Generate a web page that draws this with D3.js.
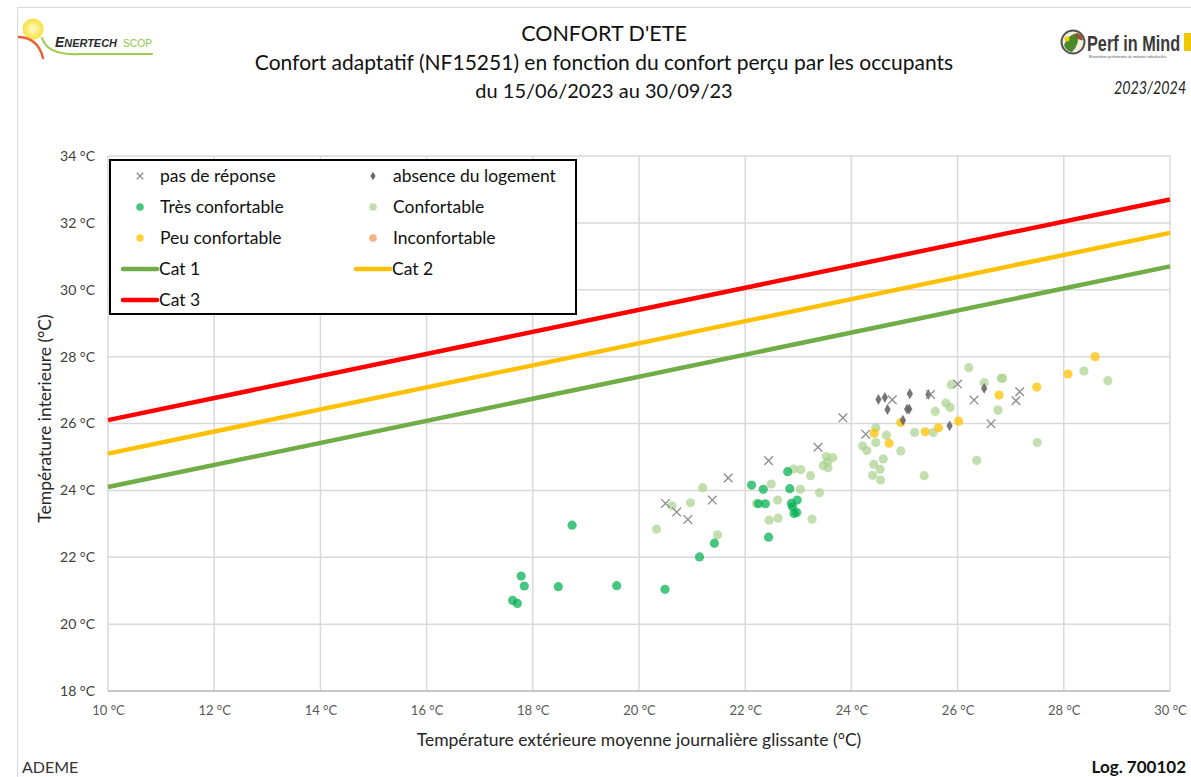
<!DOCTYPE html>
<html>
<head>
<meta charset="utf-8">
<script src="https://cdn.jsdelivr.net/npm/d3@7"></script>
<style>
  html, body { margin: 0; padding: 0; background: #fff; }
  svg { display: block; font-family: Lato, "Liberation Sans", sans-serif; }
</style>
</head>
<body>
<svg id="chart" width="1191" height="777"></svg>
<script>
// ---------- DATA ----------
const xTicks = [10, 12, 14, 16, 18, 20, 22, 24, 26, 28, 30];
const yTicks = [18, 20, 22, 24, 26, 28, 30, 32, 34];

// pas de réponse (x)
const pasDeReponse = [
  [23.84, 26.17], [23.37, 25.29], [22.44, 24.89], [21.68, 24.37], [21.38, 23.71],
  [20.50, 23.61], [20.71, 23.35], [20.92, 23.13], [24.27, 25.68], [24.77, 26.71],
  [25.49, 26.87], [26.00, 27.18], [26.31, 26.70], [26.63, 25.99], [27.10, 26.68],
  [27.17, 26.95]
];
// absence du logement (diamond)
const absence = [
  [24.51, 26.72], [24.63, 26.78], [24.68, 26.42], [25.10, 26.89], [25.45, 26.87],
  [25.05, 26.43], [25.09, 26.43], [24.97, 26.10], [25.85, 25.93], [26.50, 27.05]
];
// Très confortable
const tresConfortable = [
  [18.74, 22.96], [17.78, 21.44], [17.84, 21.14], [18.48, 21.12], [19.58, 21.15],
  [20.49, 21.04], [17.62, 20.71], [17.71, 20.62], [21.14, 22.01], [21.42, 22.42],
  [22.44, 22.60], [22.80, 24.56], [22.12, 24.16], [22.34, 24.03], [22.84, 24.05],
  [22.25, 23.60], [22.38, 23.60], [22.87, 23.61], [22.98, 23.71], [22.89, 23.51],
  [22.92, 23.31], [22.97, 23.34]
];
// Confortable
const confortable = [
  [21.20, 24.08], [20.97, 23.63], [20.62, 23.54], [20.33, 22.84], [21.48, 22.67],
  [22.91, 24.64], [23.05, 24.62], [23.23, 24.44], [22.49, 24.19], [23.04, 24.03],
  [23.40, 23.93], [22.61, 23.71], [22.21, 23.61], [22.45, 23.11], [22.62, 23.17],
  [23.26, 23.14], [23.53, 25.01], [23.65, 24.98], [23.47, 24.74], [23.56, 24.68],
  [23.55, 24.85], [24.46, 25.87], [24.66, 25.65], [24.46, 25.43], [24.21, 25.33],
  [24.29, 25.19], [24.60, 24.94], [24.42, 24.78], [24.54, 24.63], [24.40, 24.45],
  [24.55, 24.31], [24.93, 25.18], [25.19, 25.73], [25.54, 25.73], [25.37, 24.44],
  [25.58, 26.36], [25.78, 26.61], [25.86, 26.48], [25.88, 27.16], [26.21, 27.67],
  [26.50, 27.22], [26.82, 27.35], [26.85, 27.35], [26.76, 26.40], [26.36, 24.89],
  [27.50, 25.43], [28.38, 27.57], [28.83, 27.28]
];
// Peu confortable
const peuConfortable = [
  [24.43, 25.71], [24.71, 25.41], [24.93, 26.03], [25.39, 25.75], [25.64, 25.87],
  [26.02, 26.07], [26.78, 26.85], [27.49, 27.09], [28.08, 27.48], [28.59, 28.00]
];
// Inconfortable (none in period)
const inconfortable = [];

// Comfort category limits (endpoints)
const cat1 = [[10, 24.1], [30, 30.7]];
const cat2 = [[10, 25.1], [30, 31.7]];
const cat3 = [[10, 26.1], [30, 32.7]];

// ---------- DRAW ----------
const svg = d3.select("#chart");
const x = d3.scaleLinear().domain([10, 30]).range([108, 1170]);
const y = d3.scaleLinear().domain([18, 34]).range([691, 156]);

// outer chart border
svg.append("rect").attr("x", 17.5).attr("y", 7.5).attr("width", 1300).attr("height", 900)
  .attr("fill", "#fff").attr("stroke", "#d9d9d9").attr("stroke-width", 1);

// ---- Enertech logo ----
const logo1 = svg.append("g");
const sunGrad = svg.append("defs").append("radialGradient").attr("id", "sun");
sunGrad.append("stop").attr("offset", "0%").attr("stop-color", "#fffbd0");
sunGrad.append("stop").attr("offset", "100%").attr("stop-color", "#f7e13a");
logo1.append("circle").attr("cx", 33).attr("cy", 29).attr("r", 10.5).attr("fill", "url(#sun)");
logo1.append("path").attr("d", "M19,37 Q38,38 43,58").attr("fill", "none").attr("stroke", "#e8603c").attr("stroke-width", 2.5).attr("stroke-linecap", "round");
logo1.append("path").attr("d", "M42,38 Q48,56 80,54 L152,54").attr("fill", "none").attr("stroke", "#9cc94a").attr("stroke-width", 2).attr("stroke-linecap", "round");
logo1.append("text").attr("x", 55).attr("y", 47).attr("font-size", 14).attr("font-weight", "bold").attr("font-style", "italic")
  .attr("fill", "#2b2b2b").attr("font-family", "'Liberation Sans', sans-serif")
  .attr("textLength", 62).attr("lengthAdjust", "spacingAndGlyphs")
  .html('E<tspan font-size="11">NERTECH</tspan>');
logo1.append("text").attr("x", 123).attr("y", 47).attr("font-size", 11.5).attr("fill", "#8dc63f")
  .attr("font-family", "'Liberation Sans', sans-serif").attr("textLength", 29).attr("lengthAdjust", "spacingAndGlyphs").text("SCOP");

// ---- Perf in Mind logo ----
const logo2 = svg.append("g");
logo2.append("circle").attr("cx", 1073).attr("cy", 42).attr("r", 11.5).attr("fill", "#f2efe0").attr("stroke", "#555").attr("stroke-width", 2);
logo2.append("path").attr("d", "M1064,45 Q1068,34 1078,33 Q1080,44 1072,52 Q1066,51 1064,45 Z").attr("fill", "#4a8a2a");
logo2.append("path").attr("d", "M1074,34 Q1082,32 1083,40 Q1078,41 1074,34 Z").attr("fill", "#a0522d");
logo2.append("circle").attr("cx", 1067).attr("cy", 39).attr("r", 2.5).attr("fill", "#f0d000");
logo2.append("text").attr("transform", "translate(1087,51) scale(0.74,1)").attr("font-size", 22).attr("font-weight", "bold")
  .attr("fill", "#3a3a3a").attr("font-family", "'Liberation Sans', sans-serif").text("Perf in Mind");
logo2.append("rect").attr("x", 1184).attr("y", 33).attr("width", 7).attr("height", 18).attr("fill", "#f0c800");
logo2.append("text").attr("transform", "translate(1089,58) scale(0.8,1)").attr("font-size", 4.5).attr("fill", "#555")
  .text("Rénovation performante de maisons individuelles");
svg.append("text").attr("transform", "translate(1114,94) scale(0.84,1)").attr("font-size", 17).attr("font-style", "italic")
  .attr("fill", "#222").text("2023/2024");

// ---- Titles ----
svg.append("text").attr("x", 604).attr("y", 41).attr("text-anchor", "middle").attr("font-size", 21.5).attr("fill", "#111").text("CONFORT D'ETE");
svg.append("text").attr("x", 604).attr("y", 70).attr("text-anchor", "middle").attr("font-size", 21).attr("fill", "#111")
  .text("Confort adaptatif (NF15251) en fonction du confort perçu par les occupants");
svg.append("text").attr("x", 604).attr("y", 98).attr("text-anchor", "middle").attr("font-size", 20).attr("fill", "#111")
  .text("du 15/06/2023 au 30/09/23");

// ---- Grid ----
const grid = svg.append("g");
grid.selectAll("line.v").data(xTicks).join("line")
  .attr("x1", d => x(d)).attr("x2", d => x(d)).attr("y1", y(34)).attr("y2", y(18))
  .attr("stroke", "#d9d9d9").attr("stroke-width", 1.5);
grid.selectAll("line.h").data(yTicks).join("line")
  .attr("x1", x(10)).attr("x2", x(30)).attr("y1", d => y(d)).attr("y2", d => y(d))
  .attr("stroke", "#d9d9d9").attr("stroke-width", 1.5);
svg.append("line").attr("x1", x(10)).attr("x2", x(30)).attr("y1", y(18)).attr("y2", y(18))
  .attr("stroke", "#bfbfbf").attr("stroke-width", 1.5);

// ---- Axes ----
const fmt = d => d + " °C";
const xAxis = svg.append("g").attr("transform", `translate(0,${y(18)})`)
  .call(d3.axisBottom(x).tickValues(xTicks).tickFormat(fmt).tickSize(0).tickPadding(15));
xAxis.select(".domain").remove();
xAxis.selectAll("text").attr("font-size", 13).attr("fill", "#595959").attr("font-family", "Lato, sans-serif");

const yAxis = svg.append("g").attr("transform", `translate(${x(10)},0)`)
  .call(d3.axisLeft(y).tickValues(yTicks).tickFormat(fmt).tickSize(0).tickPadding(13));
yAxis.select(".domain").remove();
yAxis.selectAll("text").attr("font-size", 14).attr("fill", "#404040").attr("font-family", "Lato, sans-serif");

svg.append("text").attr("x", 639).attr("y", 746).attr("text-anchor", "middle").attr("font-size", 17.5).attr("fill", "#262626")
  .text("Température extérieure moyenne journalière glissante (°C)");
svg.append("text").attr("transform", `translate(51,${(y(18) + y(34)) / 2 - 5}) rotate(-90)`).attr("text-anchor", "middle")
  .attr("font-size", 17.5).attr("fill", "#262626").text("Température interieure (°C)");

// ---- Category lines ----
const line = d3.line().x(d => x(d[0])).y(d => y(d[1]));
[[cat1, "#70ad47"], [cat2, "#ffc000"], [cat3, "#ff0000"]].forEach(([d, c]) => {
  svg.append("path").datum(d).attr("d", line).attr("fill", "none").attr("stroke", c).attr("stroke-width", 4.5);
});

// ---- Points ----
const pts = svg.append("g");
function dots(data, color, op) {
  pts.append("g").selectAll("circle").data(data).join("circle")
    .attr("cx", d => x(d[0])).attr("cy", d => y(d[1])).attr("r", 4.6)
    .attr("fill", color).attr("fill-opacity", op);
}
dots(confortable, "#a9d18e", 0.7);
dots(tresConfortable, "#00b050", 0.72);
dots(peuConfortable, "#ffc000", 0.75);
dots(inconfortable, "#f4a46c", 0.8);

const diamond = d3.symbol().type(d3.symbolDiamond).size(34);
pts.append("g").selectAll("path").data(absence).join("path")
  .attr("transform", d => `translate(${x(d[0])},${y(d[1])})`).attr("d", diamond)
  .attr("fill", "#666").attr("fill-opacity", 0.9);

const cross = d3.symbol().type(d3.symbolX).size(50);
pts.append("g").selectAll("path").data(pasDeReponse).join("path")
  .attr("transform", d => `translate(${x(d[0])},${y(d[1])})`).attr("d", cross)
  .attr("fill", "none").attr("stroke", "#8c8c8c").attr("stroke-width", 1.3);

// ---- Legend ----
const lg = svg.append("g");
lg.append("rect").attr("x", 110).attr("y", 160).attr("width", 466).attr("height", 154)
  .attr("fill", "#fff").attr("stroke", "#000").attr("stroke-width", 2);
const legendItems = [
  { label: "pas de réponse", type: "x", col: 0, row: 0 },
  { label: "absence du logement", type: "d", col: 1, row: 0 },
  { label: "Très confortable", type: "c", color: "#00b050", op: 0.72, col: 0, row: 1 },
  { label: "Confortable", type: "c", color: "#a9d18e", op: 0.7, col: 1, row: 1 },
  { label: "Peu confortable", type: "c", color: "#ffc000", op: 0.75, col: 0, row: 2 },
  { label: "Inconfortable", type: "c", color: "#f4a46c", op: 0.85, col: 1, row: 2 },
  { label: "Cat 1", type: "l", color: "#70ad47", col: 0, row: 3 },
  { label: "Cat 2", type: "l", color: "#ffc000", col: 1, row: 3 },
  { label: "Cat 3", type: "l", color: "#ff0000", col: 0, row: 4 }
];
const colX = [140, 373], rowY0 = 176, rowStep = 31;
legendItems.forEach(it => {
  const cx = colX[it.col], cy = rowY0 + it.row * rowStep;
  const g = lg.append("g");
  if (it.type === "x") {
    g.append("path").attr("transform", `translate(${cx},${cy})`).attr("d", d3.symbol().type(d3.symbolX).size(30))
      .attr("fill", "none").attr("stroke", "#8c8c8c").attr("stroke-width", 1.2);
  } else if (it.type === "d") {
    g.append("path").attr("transform", `translate(${cx},${cy})`).attr("d", d3.symbol().type(d3.symbolDiamond).size(22)).attr("fill", "#666");
  } else if (it.type === "c") {
    g.append("circle").attr("cx", cx).attr("cy", cy).attr("r", 3.8).attr("fill", it.color).attr("fill-opacity", it.op);
  } else {
    g.append("line").attr("x1", cx - 17).attr("x2", cx + 17).attr("y1", cy).attr("y2", cy)
      .attr("stroke", it.color).attr("stroke-width", 4.5).attr("stroke-linecap", "round");
  }
  g.append("text").attr("x", it.type === "l" ? cx + 19 : cx + 20).attr("y", cy + 6).attr("font-size", 17.5)
    .attr("fill", "#111").text(it.label);
});

// ---- Footer ----
svg.append("text").attr("x", 22).attr("y", 773).attr("font-size", 16).attr("fill", "#333").text("ADEME");
svg.append("text").attr("x", 1186).attr("y", 773).attr("text-anchor", "end").attr("font-size", 17).attr("font-weight", "bold")
  .attr("fill", "#111").text("Log. 700102");
</script>
</body>
</html>
